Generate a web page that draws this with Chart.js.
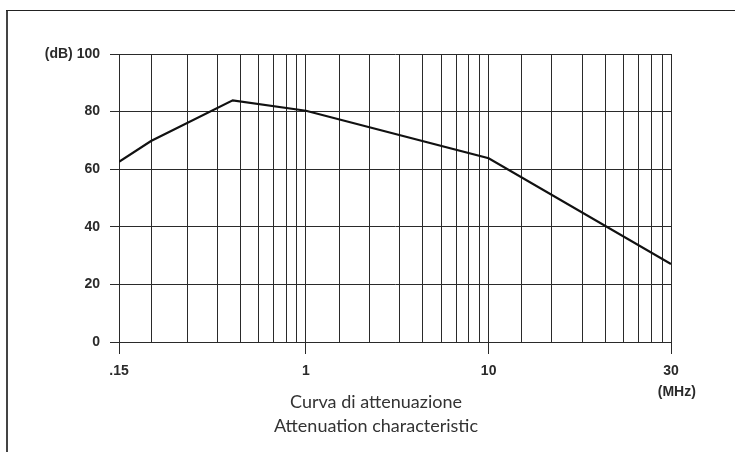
<!DOCTYPE html>
<html>
<head>
<meta charset="utf-8">
<script src="https://cdn.jsdelivr.net/npm/chart.js@4"></script>
<style>
  html, body { margin: 0; padding: 0; background: #fff; overflow: hidden; }
  #wrap { position: relative; width: 735px; height: 452px; overflow: hidden; }
  #chart { position: absolute; left: 0; top: 0; }
  .edge { position: absolute; background: #444; }
  #caption {
    position: absolute; left: 0; top: 389px; width: 752px;
    text-align: center; font: 18px/24px Lato, "Open Sans", sans-serif; color: #333;
  }
</style>
</head>
<body>
<div id="wrap">
  <canvas id="chart" width="752" height="452"></canvas>
  <div class="edge" style="left:6px; top:10px; width:2px; height:442px;"></div>
  <div class="edge" style="left:6px; top:10px; width:729px; height:1px; background:#222;"></div>
  <div id="caption"></div>
</div>
<script>
// grid lines of the printed log paper, in decades from the left edge
const gridPos = [0, 0.174, 0.370, 0.534, 0.659, 0.759, 0.841, 0.908, 0.967,
  1.016, 1.196, 1.359, 1.527, 1.651, 1.750, 1.835, 1.901, 1.960,
  2.009, 2.189, 2.352, 2.518, 2.643, 2.743, 2.826, 2.893, 2.953, 3.0];

// labelled grid lines (index into gridPos) and their text
const freqTickIdx = [0, 9, 18, 27];
const freqLabels = [".15", "1", "10", ["30", "\u00a0\u00a0\u00a0(MHz)"]];

const dbTicks = [0, 20, 40, 60, 80, 100];

// attenuation curve
const curveX = [0, 0.174, 0.618, 1.016, 2.009, 3.0];
const curveDb = [62.6, 69.8, 83.9, 80.3, 63.8, 27.1];

const titleLines = ["Curva di attenuazione", "Attenuation characteristic"];

document.getElementById("caption").innerHTML = titleLines.join("<br>");

const ink = "#2a2a2a";
const tickFont = { family: "'Liberation Sans', Arial, sans-serif", size: 14, weight: "bold", lineHeight: 1.5 };

new Chart(document.getElementById("chart"), {
  type: "line",
  data: {
    datasets: [{
      data: curveX.map((x, i) => ({ x: x, y: curveDb[i] })),
      borderColor: "#111",
      borderWidth: 2.2,
      pointRadius: 0,
      tension: 0,
      fill: false
    }]
  },
  options: {
    responsive: false,
    animation: false,
    events: [],
    layout: { padding: { left: 0, right: 81, top: 54, bottom: 0 } },
    plugins: {
      legend: { display: false },
      tooltip: { enabled: false }
    },
    scales: {
      x: {
        type: "linear",
        min: 0,
        max: 3,
        afterBuildTicks: s => { s.ticks = gridPos.map(v => ({ value: v })); },
        afterFit: s => { s.height = 110; },
        grid: {
          color: ink,
          lineWidth: 1,
          drawTicks: true,
          tickLength: 12,
          tickColor: c => freqTickIdx.includes(c.index) ? ink : "rgba(0,0,0,0)"
        },
        border: { color: ink, width: 1 },
        ticks: {
          autoSkip: false,
          maxRotation: 0,
          padding: 7,
          color: ink,
          font: tickFont,
          callback: (v, i) => {
            const k = freqTickIdx.indexOf(i);
            return k >= 0 ? freqLabels[k] : "";
          }
        }
      },
      y: {
        min: 0,
        max: 100,
        afterBuildTicks: s => { s.ticks = dbTicks.map(v => ({ value: v })); },
        afterFit: s => { s.width = 119; },
        grid: { color: ink, lineWidth: 1, drawTicks: true, tickLength: 9, tickColor: ink },
        border: { color: ink, width: 1 },
        ticks: {
          padding: 10,
          color: ink,
          font: { family: "'Liberation Sans', Arial, sans-serif", size: 14, weight: "bold" },
          callback: v => v === 100 ? "(dB) 100" : String(v)
        }
      }
    }
  }
});
</script>
</body>
</html>
